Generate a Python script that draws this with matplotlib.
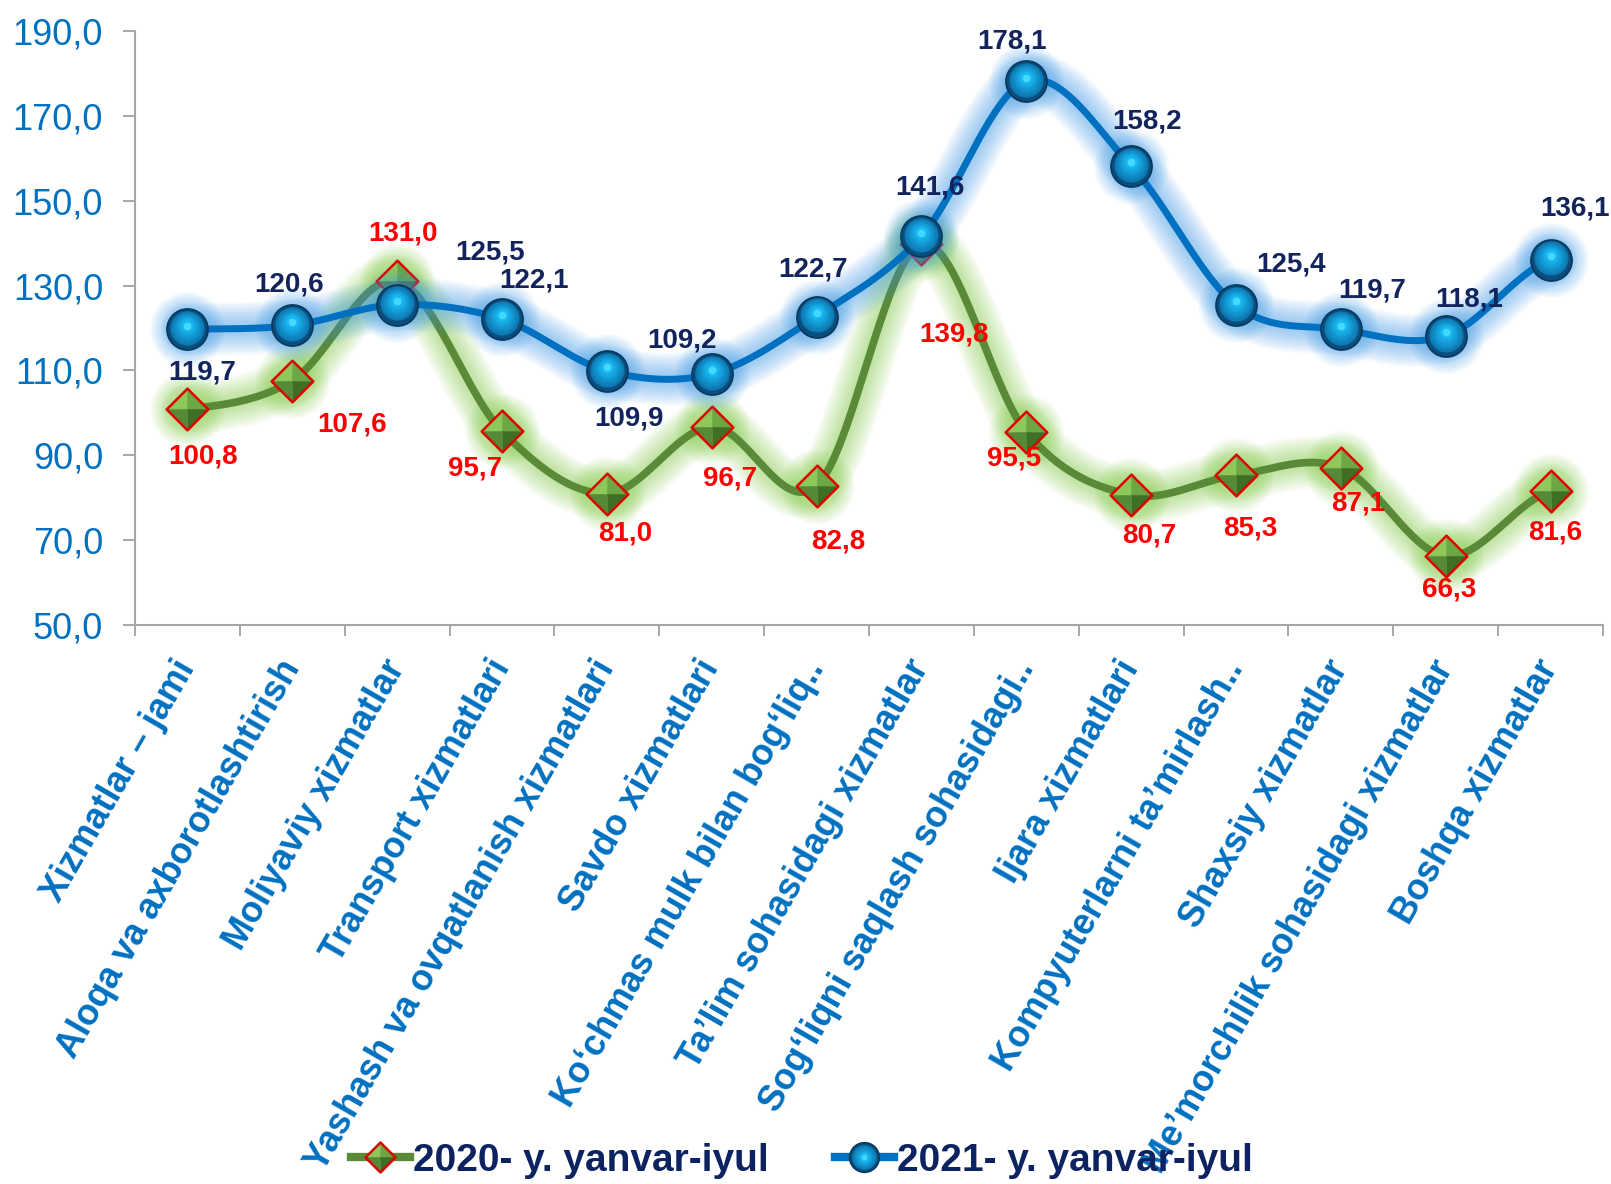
import numpy as np
import matplotlib
matplotlib.use("Agg")
import matplotlib.pyplot as plt
import matplotlib.transforms as mtransforms
from matplotlib.path import Path
from matplotlib.lines import Line2D
from matplotlib.legend_handler import HandlerTuple
from matplotlib.colors import to_rgb

# ---------------- data ----------------
categories = [
    "Xizmatlar \u2013 jami",
    "Aloqa va axborotlashtirish",
    "Moliyaviy xizmatlar",
    "Transport xizmatlari",
    "Yashash va ovqatlanish xizmatlari",
    "Savdo xizmatlari",
    "Ko\u2018chmas mulk bilan bog\u2018liq..",
    "Ta\u2019lim sohasidagi xizmatlar",
    "Sog\u2018liqni saqlash sohasidagi..",
    "Ijara xizmatlari",
    "Kompyuterlarni ta\u2019mirlash..",
    "Shaxsiy xizmatlar",
    "Me\u2019morchilik sohasidagi xizmatlar",
    "Boshqa xizmatlar",
]
values_2020 = [100.8, 107.6, 131.0, 95.7, 81.0, 96.7, 82.8, 139.8, 95.5, 80.7, 85.3, 87.1, 66.3, 81.6]
values_2021 = [119.7, 120.6, 125.5, 122.1, 109.9, 109.2, 122.7, 141.6, 178.1, 158.2, 125.4, 119.7, 118.1, 136.1]
series_names = ["2020- y. yanvar-iyul", "2021- y. yanvar-iyul"]
y_ticks = [50, 70, 90, 110, 130, 150, 170, 190]
y_tick_labels = ["50,0", "70,0", "90,0", "110,0", "130,0", "150,0", "170,0", "190,0"]

# label offsets (pixels) for data labels
off_2020 = [(16, -47), (60, -44), (6, 48), (-27, -37), (18, -40), (18, -52), (22, -56),
            (33, -91), (-12, -27), (18, -41), (14, -53), (17, -36), (3, -34), (5, -42)]
off_2021 = [(15, -43), (-3, 41), (93, 52), (32, 39), (22, -48), (-30, 33), (-3, 47),
            (9, 49), (-14, 40), (16, 44), (55, 41), (31, 39), (24, 37), (24, 51)]

plt.rcParams["font.family"] = ["Liberation Sans", "DejaVu Sans"]

BLUE = "#0070C0"
NAVY = "#13235B"
GREEN_LINE = "#5A8A38"


def smooth(vals, n=40):
    y = np.asarray(vals, float)
    N = len(y)
    xs, ys = [], []
    for i in range(N - 1):
        p0 = y[i - 1] if i > 0 else y[i]
        p3 = y[i + 2] if i + 2 < N else y[i + 1]
        p1, p2 = y[i], y[i + 1]
        c1 = p1 + (p2 - p0) / 6.0
        c2 = p2 - (p3 - p1) / 6.0
        t = np.linspace(0, 1, n, endpoint=(i == N - 2))
        yy = (1 - t) ** 3 * p1 + 3 * (1 - t) ** 2 * t * c1 + 3 * (1 - t) * t ** 2 * c2 + t ** 3 * p2
        xs.append(i + t)
        ys.append(yy)
    return np.concatenate(xs), np.concatenate(ys)


def mix(c1, c2, f):
    a, b = np.array(to_rgb(c1)), np.array(to_rgb(c2))
    return tuple(a + (b - a) * f)


fig = plt.figure(figsize=(16.11, 11.84), dpi=100)
ax = fig.add_axes([0.0838, 0.472, 0.9112, 0.502])

x = np.arange(len(categories))


def tri(pts):
    return Path(pts + [pts[0]], [Path.MOVETO] + [Path.LINETO] * (len(pts) - 1) + [Path.CLOSEPOLY])


facet_tl = tri([(-1, 0), (0, 1), (0, 0)])
facet_tr = tri([(0, 1), (1, 0), (0, 0)])
facet_br = tri([(1, 0), (0, -1), (0, 0)])
facet_bl = tri([(0, -1), (-1, 0), (0, 0)])
diamond = tri([(-1, 0), (0, 1), (1, 0), (0, -1)])
DMS = 30


def glow(xx, yy, color, z, wmax=38, wmin=8, n=14, a=0.045):
    for w in np.linspace(wmax, wmin, n):
        ax.plot(xx, yy, color=color, lw=w, alpha=a, solid_capstyle="round", zorder=z)


def marker_glow(vals, color, z, smax=54, smin=32, n=10, a=0.05):
    for ms in np.linspace(smax, smin, n):
        ax.plot(x, vals, ls="none", marker="o", ms=ms, mew=0, mfc=color, alpha=a, zorder=z)


# ---------------- 2020 series ----------------
sx, sy = smooth(values_2020)
glow(sx, sy, "#86D048", 2)
marker_glow(values_2020, "#86D048", 2)
ax.plot(sx, sy, color=GREEN_LINE, lw=5.5, solid_capstyle="round", zorder=3)

green_handles = []
for path, col in [(facet_tl, "#8CC85A"), (facet_tr, "#6DA743"), (facet_br, "#3F6E25"), (facet_bl, "#568A39")]:
    h, = ax.plot(x, values_2020, ls="none", marker=path, ms=DMS, mfc=col, mec=col, mew=0.3, zorder=4)
    green_handles.append(h)
h, = ax.plot(x, values_2020, ls="none", marker=diamond, ms=DMS, mfc="none", mec="#E00000", mew=1.8, zorder=4)
green_handles.append(h)

# ---------------- 2021 series ----------------
sx, sy = smooth(values_2021)
glow(sx, sy, "#3F9DEB", 5)
marker_glow(values_2021, "#3F9DEB", 5)
ax.plot(sx, sy, color=BLUE, lw=5, solid_capstyle="round", zorder=6)

blue_handles = []
h, = ax.plot(x, values_2021, ls="none", marker="o", ms=29.5, mfc="#0A4E7E", mec="#083A60", mew=1.3, zorder=7)
blue_handles.append(h)
nlay = 8
for k in range(nlay):
    f = (k + 1) / nlay
    ms = 27 - 19 * f
    tr = mtransforms.offset_copy(ax.transData, fig=fig, x=0, y=0.6 + 2.4 * f, units="points")
    h, = ax.plot(x, values_2021, ls="none", marker="o", ms=ms, mfc=mix("#0C6EA8", "#19B9F2", f),
                 mew=0, zorder=7, transform=tr)
    blue_handles.append(h)
tr = mtransforms.offset_copy(ax.transData, fig=fig, x=0, y=2.6, units="points")
h, = ax.plot(x, values_2021, ls="none", marker="o", ms=5.5, mfc="#45D8FF", mew=0, zorder=7, transform=tr)
blue_handles.append(h)

# ---------------- data labels ----------------
def fmt(v):
    return f"{v:.1f}".replace(".", ",")


for i, v in enumerate(values_2020):
    ax.annotate(fmt(v), xy=(i, v), xytext=off_2020[i], textcoords="offset pixels",
                ha="center", va="center", fontsize=20, fontweight="bold", color="#FF0000", zorder=9)
for i, v in enumerate(values_2021):
    ax.annotate(fmt(v), xy=(i, v), xytext=off_2021[i], textcoords="offset pixels",
                ha="center", va="center", fontsize=20, fontweight="bold", color=NAVY, zorder=9)

# ---------------- axes ----------------
ax.set_xlim(-0.5, len(categories) - 0.5)
ax.set_ylim(50, 190)
ax.set_yticks(y_ticks)
ax.set_yticklabels(y_tick_labels)
ax.tick_params(axis="y", length=9, width=1.3, pad=14, labelsize=26, labelcolor=BLUE, color="#A0A0A0")

ax.set_xticks(x)
ax.set_xticklabels(categories, rotation=60, ha="right", va="center", rotation_mode="anchor",
                   fontsize=26, fontweight="bold", color=BLUE)
ax.tick_params(axis="x", which="major", length=0, pad=27)
ax.set_xticks(np.arange(-0.5, len(categories), 1), minor=True)
ax.tick_params(axis="x", which="minor", length=8, width=1.3, color="#A0A0A0")

for s in ["top", "right"]:
    ax.spines[s].set_visible(False)
for s in ["left", "bottom"]:
    ax.spines[s].set_color("#A6A6A6")
    ax.spines[s].set_linewidth(1.5)

# ---------------- legend ----------------
leg_green = tuple([Line2D([], [], color=GREEN_LINE, lw=6)] + green_handles)
leg_blue = tuple([Line2D([], [], color=BLUE, lw=6)] + blue_handles)
leg = fig.legend([leg_green, leg_blue], series_names, loc="center", bbox_to_anchor=(0.498, 0.0194),
                 ncol=2, frameon=False, handler_map={tuple: HandlerTuple(ndivide=1, pad=0)},
                 numpoints=1, markerscale=0.72, handlelength=1.5, handletextpad=0.1, columnspacing=1.7,
                 prop={"size": 28, "weight": "bold"})
for t in leg.get_texts():
    t.set_color("#0D2260")

fig.savefig("out.png", dpi=100)
